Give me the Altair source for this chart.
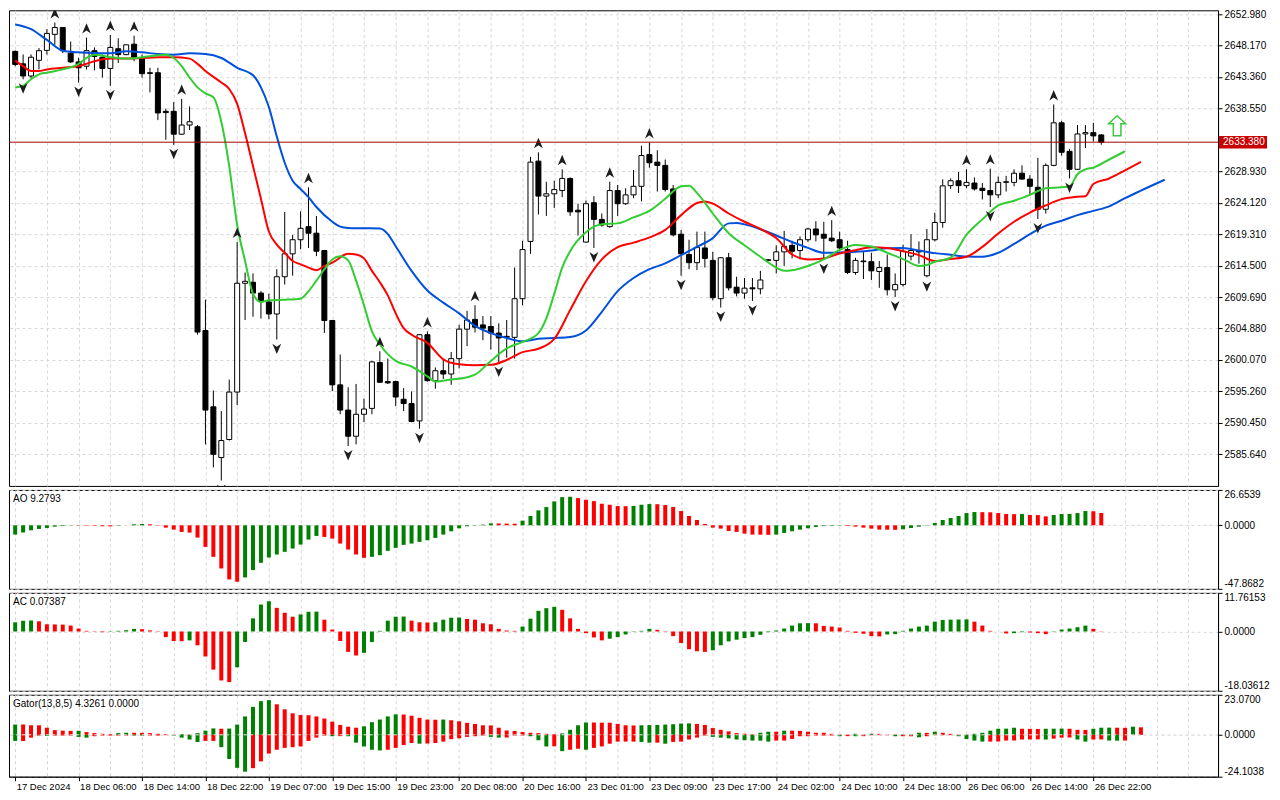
import altair as alt
import pandas as pd

# ---------------- data ----------------
opens = [2647.27, 2645.36, 2643.5, 2645.9, 2647.42, 2649.87, 2650.92, 2647.0, 2645.66, 2645.0,
         2647.37, 2646.37, 2644.66, 2647.67, 2646.77, 2648.37, 2646.27, 2644.0, 2644.0, 2638.1,
         2638.1, 2634.6, 2636.0, 2635.74, 2604.58, 2592.9, 2585.14, 2587.9, 2595.16, 2611.8,
         2611.95, 2610.3, 2608.94, 2607.1, 2612.8, 2616.3, 2618.46, 2620.46, 2619.46, 2616.8,
         2606.1, 2596.26, 2592.4, 2588.4, 2591.76, 2592.66, 2599.67, 2596.76, 2596.76, 2594.06,
         2593.41, 2590.75, 2603.93, 2596.9, 2598.42, 2597.92, 2600.27, 2604.78, 2606.28, 2605.43,
         2605.18, 2604.18, 2603.68, 2603.53, 2609.44, 2618.2, 2630.48, 2625.13, 2625.48, 2625.98,
         2627.83, 2622.97, 2618.1, 2624.12, 2621.57, 2620.46, 2625.98, 2623.97, 2625.32, 2626.63,
         2631.48, 2630.33, 2629.83, 2626.23, 2619.3, 2616.2, 2614.95, 2617.2, 2615.3, 2609.44,
         2615.7, 2611.2, 2610.3, 2611.1, 2610.95, 2615.3, 2615.3, 2616.6, 2617.6, 2616.8,
         2618.46, 2620.1, 2619.3, 2618.71, 2618.46, 2616.95, 2613.45, 2615.2, 2615.1, 2613.6,
         2614.2, 2610.8, 2611.6, 2615.95, 2616.8, 2612.95, 2618.46, 2621.1, 2626.73, 2627.48,
         2626.73, 2627.13, 2626.33, 2625.98, 2625.32, 2627.23, 2627.23, 2628.63, 2627.73, 2626.48,
         2623.12, 2629.83, 2636.34, 2631.98, 2629.23, 2634.64, 2634.84, 2634.49]
highs = [2647.4, 2646.8, 2646.8, 2647.77, 2650.67, 2651.68, 2651.0, 2648.77, 2646.3, 2649.37,
         2647.87, 2646.8, 2649.77, 2649.27, 2648.3, 2649.67, 2646.77, 2644.76, 2644.76, 2638.5,
         2639.5, 2640.0, 2638.85, 2636.0, 2609.29, 2595.41, 2592.25, 2597.07, 2618.1, 2613.45,
         2613.3, 2610.6, 2610.2, 2613.95, 2622.7, 2619.2, 2622.8, 2626.47, 2622.1, 2616.9,
         2606.2, 2600.9, 2595.9, 2596.4, 2594.16, 2599.92, 2601.4, 2600.28, 2596.9, 2595.76,
         2595.26, 2604.0, 2604.43, 2598.92, 2600.17, 2601.28, 2605.43, 2607.58, 2608.44, 2606.78,
         2606.78, 2605.68, 2606.18, 2614.2, 2618.3, 2631.13, 2631.83, 2627.33, 2627.48, 2629.23,
         2628.0, 2623.97, 2624.47, 2625.12, 2622.47, 2627.33, 2626.83, 2626.32, 2629.13, 2632.83,
         2633.34, 2632.14, 2630.73, 2626.83, 2619.96, 2618.46, 2619.7, 2619.7, 2616.6, 2615.8,
         2616.45, 2612.8, 2612.6, 2612.6, 2613.7, 2615.5, 2617.6, 2619.8, 2618.3, 2618.96,
         2620.3, 2621.3, 2621.2, 2621.45, 2619.7, 2618.3, 2615.7, 2616.7, 2616.45, 2615.2,
         2616.2, 2613.3, 2617.7, 2619.3, 2618.2, 2620.1, 2622.6, 2627.7, 2627.83, 2628.83,
         2629.23, 2627.98, 2627.13, 2629.33, 2628.13, 2628.23, 2629.23, 2629.83, 2628.33, 2630.98,
         2630.13, 2639.15, 2636.64, 2632.34, 2636.0, 2636.0, 2636.34, 2634.6]
lows = [2645.0, 2643.0, 2643.2, 2644.5, 2646.77, 2648.27, 2647.0, 2645.5, 2642.5, 2644.5,
        2644.36, 2643.26, 2642.0, 2645.5, 2646.7, 2645.76, 2643.26, 2641.0, 2636.75, 2633.74,
        2632.98, 2634.5, 2635.24, 2603.93, 2587.15, 2583.64, 2581.63, 2587.74, 2593.16, 2606.18,
        2606.68, 2606.4, 2606.3, 2603.18, 2611.6, 2612.95, 2617.0, 2617.2, 2615.95, 2604.2,
        2595.3, 2591.76, 2586.9, 2587.15, 2590.55, 2591.76, 2596.56, 2596.4, 2593.0, 2592.25,
        2590.55, 2589.55, 2596.76, 2595.66, 2597.17, 2596.26, 2598.77, 2602.18, 2604.28, 2603.08,
        2601.67, 2599.67, 2600.42, 2600.27, 2608.44, 2616.3, 2622.32, 2622.1, 2623.32, 2624.97,
        2622.1, 2619.1, 2618.0, 2617.2, 2620.46, 2620.3, 2622.1, 2623.8, 2624.82, 2624.32,
        2629.48, 2625.83, 2625.83, 2618.96, 2612.95, 2613.95, 2613.8, 2614.2, 2609.19, 2608.09,
        2610.7, 2609.8, 2609.44, 2609.1, 2610.1, 2615.2, 2613.3, 2614.45, 2615.6, 2615.45,
        2618.1, 2618.2, 2615.45, 2618.1, 2616.7, 2613.2, 2613.1, 2612.45, 2612.3, 2611.1,
        2609.94, 2609.7, 2611.3, 2615.3, 2614.8, 2612.7, 2618.2, 2620.3, 2626.23, 2625.6,
        2626.33, 2625.98, 2624.62, 2623.47, 2624.82, 2625.83, 2626.63, 2627.63, 2625.22, 2621.62,
        2622.47, 2629.7, 2631.33, 2627.83, 2629.13, 2632.49, 2633.49, 2632.99]
closes = [2645.27, 2643.5, 2646.37, 2647.37, 2650.02, 2650.92, 2647.37, 2645.66, 2644.76, 2647.37,
          2646.5, 2644.66, 2647.87, 2646.77, 2648.27, 2646.37, 2643.86, 2643.9, 2637.85, 2637.9,
          2634.6, 2636.0, 2636.5, 2604.33, 2592.4, 2585.64, 2587.74, 2595.16, 2611.8, 2612.1,
          2610.3, 2609.1, 2607.1, 2612.8, 2616.3, 2618.46, 2620.2, 2619.46, 2616.7, 2606.1,
          2596.26, 2592.4, 2588.4, 2591.76, 2592.56, 2599.77, 2596.66, 2596.56, 2594.4, 2593.4,
          2590.65, 2603.93, 2596.9, 2598.42, 2597.92, 2600.27, 2604.78, 2606.18, 2605.08, 2604.93,
          2604.18, 2603.43, 2603.53, 2609.44, 2616.95, 2630.33, 2625.13, 2625.48, 2626.13, 2627.83,
          2622.72, 2622.72, 2623.97, 2621.57, 2620.7, 2625.98, 2623.97, 2625.32, 2626.63, 2631.33,
          2630.23, 2629.83, 2626.13, 2619.2, 2616.3, 2614.95, 2617.3, 2615.6, 2609.59, 2615.7,
          2611.1, 2610.3, 2611.05, 2610.95, 2612.3, 2615.4, 2616.6, 2617.45, 2616.7, 2618.46,
          2620.1, 2619.2, 2618.7, 2618.3, 2617.2, 2613.45, 2615.3, 2615.1, 2613.7, 2614.2,
          2610.8, 2611.6, 2616.7, 2616.8, 2616.6, 2618.46, 2621.1, 2626.7, 2627.48, 2626.73,
          2627.23, 2626.23, 2625.98, 2625.32, 2627.23, 2627.33, 2628.63, 2627.73, 2626.63, 2623.12,
          2629.83, 2636.34, 2631.83, 2629.23, 2634.64, 2634.84, 2634.34, 2633.38]

time_labels = ["17 Dec 2024", "18 Dec 06:00", "18 Dec 14:00", "18 Dec 22:00", "19 Dec 07:00",
               "19 Dec 15:00", "19 Dec 23:00", "20 Dec 08:00", "20 Dec 16:00", "23 Dec 01:00",
               "23 Dec 09:00", "23 Dec 17:00", "24 Dec 02:00", "24 Dec 10:00", "24 Dec 18:00",
               "26 Dec 06:00", "26 Dec 14:00", "26 Dec 22:00"]

# Alligator (jaw / teeth / lips), read at the listed bar positions
jaw_idx = [0, 2, 4, 6, 8, 10, 12, 14, 16, 18, 20, 22, 24, 26, 28, 30, 31, 32, 33, 34, 35, 36, 37, 38, 40,
           41, 42, 44, 46, 47, 48, 50, 52, 54, 56, 58, 60, 62, 64, 66, 68, 70, 72, 74, 76, 78, 80, 82,
           84, 86, 88, 90, 91, 92, 94, 96, 98, 100, 102, 104, 106, 108, 110, 112, 114, 116, 118, 120,
           122, 124, 126, 128, 130, 132, 134, 136, 138, 140, 142, 145]
jaw_val = [2651.38, 2650.67, 2649.02, 2647.37, 2647.12, 2647.02, 2646.97, 2647.27, 2647.12, 2646.87,
           2646.77, 2646.97, 2646.87, 2646.26, 2644.76, 2643.61, 2641.76, 2638.75, 2634.24, 2630.23,
           2627.48, 2626.22, 2624.97, 2623.47, 2621.21, 2620.46, 2620.26, 2620.21, 2620.16, 2619.31,
           2617.46, 2613.70, 2610.69, 2608.84, 2607.19, 2605.28, 2604.18, 2603.43, 2602.93, 2603.33,
           2603.43, 2603.58, 2604.58, 2607.44, 2610.59, 2612.60, 2613.95, 2614.85, 2616.10, 2617.36,
           2618.71, 2620.96, 2621.01, 2620.81, 2620.06, 2619.11, 2618.11, 2617.21, 2616.46, 2616.51,
           2616.61, 2616.81, 2617.16, 2617.21, 2616.81, 2616.41, 2616.15, 2615.90, 2615.85, 2616.46,
           2617.81, 2619.31, 2620.61, 2621.37, 2622.22, 2622.87, 2623.57, 2624.82, 2625.97, 2627.63]
teeth_idx = [0, 1, 2, 3, 4, 6, 8, 10, 12, 14, 16, 18, 20, 22, 23, 24, 26, 27, 28, 29, 30, 31, 32, 33,
             34, 35, 36, 37, 38, 39, 40, 42, 43, 44, 45, 46, 47, 48, 49, 50, 52, 54, 56, 58, 60, 62,
             64, 66, 68, 70, 72, 74, 76, 78, 80, 82, 84, 86, 87, 88, 90, 92, 94, 96, 98, 100, 102,
             104, 106, 108, 110, 112, 114, 116, 118, 120, 122, 124, 126, 128, 130, 132, 134, 135,
             136, 138, 140, 142]
teeth_val = [2645.86, 2645.01, 2644.26, 2644.26, 2644.51, 2644.76, 2645.01, 2645.76, 2646.16, 2646.16,
             2646.26, 2646.37, 2646.37, 2646.16, 2645.36, 2644.26, 2642.51, 2641.51, 2639.25, 2634.74,
             2629.73, 2624.72, 2619.71, 2617.71, 2616.46, 2615.20, 2614.70, 2614.20, 2613.80, 2614.45,
             2614.95, 2616.31, 2616.21, 2615.60, 2613.70, 2611.95, 2609.94, 2607.19, 2604.93, 2603.93,
             2602.68, 2600.17, 2599.42, 2599.27, 2599.32, 2600.07, 2601.27, 2601.78, 2603.28, 2607.69,
             2612.10, 2615.45, 2617.31, 2618.01, 2618.81, 2619.96, 2622.22, 2624.07, 2624.32, 2623.97,
             2622.47, 2621.21, 2620.11, 2618.71, 2616.20, 2615.45, 2615.60, 2616.36, 2616.86, 2617.31,
             2617.21, 2616.71, 2616.10, 2615.20, 2615.50, 2615.85, 2617.36, 2619.41, 2621.21, 2622.62,
             2623.72, 2624.67, 2625.02, 2625.12, 2626.98, 2627.83, 2629.08, 2630.38]
lips_idx = [0, 1, 2, 3, 4, 6, 8, 9, 10, 12, 14, 16, 18, 19, 20, 21, 22, 23, 24, 25, 26, 27, 28, 29, 30,
            31, 32, 34, 36, 37, 38, 39, 40, 41, 42, 43, 44, 45, 46, 48, 50, 52, 53, 55, 57, 58, 60, 62,
            64, 66, 67, 68, 69, 70, 72, 74, 76, 78, 80, 82, 84, 85, 86, 88, 90, 92, 94, 96, 97, 98,
            100, 102, 104, 106, 108, 110, 112, 114, 115, 116, 118, 120, 122, 124, 126, 128, 130, 132,
            133, 134, 135, 136, 138, 140]
lips_val = [2641.76, 2642.01, 2643.01, 2643.76, 2644.01, 2644.51, 2645.36, 2646.26, 2646.77, 2646.37,
            2646.16, 2646.37, 2646.67, 2646.77, 2646.26, 2645.01, 2643.26, 2641.76, 2640.85, 2640.25,
            2636.50, 2629.73, 2620.71, 2615.20, 2610.19, 2608.94, 2609.19, 2609.29, 2609.44, 2610.59,
            2612.20, 2613.95, 2615.45, 2615.95, 2615.30, 2612.20, 2608.44, 2604.43, 2602.43, 2599.92,
            2599.07, 2597.57, 2596.77, 2597.07, 2597.42, 2597.82, 2599.92, 2601.83, 2602.83, 2604.18,
            2606.44, 2610.19, 2614.20, 2616.71, 2619.61, 2620.81, 2620.96, 2621.87, 2622.87, 2624.72,
            2626.63, 2626.73, 2625.62, 2622.47, 2619.46, 2617.61, 2615.85, 2614.20, 2613.70, 2613.80,
            2614.45, 2615.45, 2616.91, 2617.66, 2617.41, 2616.46, 2615.50, 2614.45, 2614.60, 2615.10,
            2615.70, 2619.21, 2621.57, 2623.72, 2624.42, 2625.32, 2626.33, 2626.48, 2626.63, 2628.48,
            2629.23, 2629.48, 2630.73, 2631.99]

# Fractals (bar numbers)
fractal_up = [5, 9, 12, 15, 21, 28, 37, 46, 52, 58, 66, 69, 75, 80, 103, 120, 123, 131]
fractal_down = [1, 8, 12, 20, 26, 33, 42, 51, 61, 73, 84, 89, 93, 102, 111, 115, 123, 129, 133]
signal_bar = [139]
signal_price = [2635.9]
last_price = [2633.38]
last_price_text = ["2633.380"]

price_ticks = [2652.98, 2648.17, 2643.36, 2638.55, 2628.93, 2624.12, 2619.31, 2614.50,
               2609.69, 2604.88, 2600.07, 2595.26, 2590.45, 2585.64]

ao_values = [-7.0, -5.5, -3.75, -2.75, -2.0, -1.0, -0.5, -0.2, -0.25, -0.3,
             -0.4, -0.7, -0.8, -0.3, 0.0, 0.75, 1.0, 0.75, -0.25, -1.75,
             -3.25, -5.0, -5.5, -9.25, -16.25, -23.75, -32.5, -40.75, -42.5, -39.25,
             -33.75, -28.25, -24.25, -22.0, -20.0, -17.5, -14.5, -10.75, -8.0, -8.75,
             -10.0, -13.75, -18.25, -22.0, -24.5, -23.75, -22.5, -19.25, -17.0, -14.75,
             -13.75, -12.5, -11.25, -9.5, -7.0, -4.5, -2.25, -0.75, -0.25, 0.5,
             1.5, 1.4, 1.3, 1.2, 3.5, 7.0, 11.25, 13.75, 18.0, 21.25,
             21.5, 20.5, 19.25, 18.25, 16.25, 15.5, 14.5, 14.4, 14.6, 15.5,
             16.0, 15.9, 15.25, 13.75, 10.75, 7.0, 4.0, 1.0, -1.75, -2.5,
             -4.25, -5.0, -6.25, -7.0, -7.1, -7.2, -7.0, -5.75, -4.5, -3.25,
             -2.25, -1.25, -0.5, -0.4, -0.25, -0.5, -1.0, -1.75, -2.5, -3.25,
             -3.3, -3.4, -3.0, -2.0, -1.0, -0.25, 1.75, 4.0, 5.5, 7.0,
             9.25, 10.0, 9.9, 9.8, 9.25, 8.5, 8.4, 8.5, 7.75, 7.7,
             6.75, 7.75, 8.5, 8.6, 9.25, 10.75, 10.6, 9.2793]
ac_values = [2.8, 3.3, 3.35, 3.1, 2.2, 2.15, 2.1, 1.8, 0.9, 0.2,
             0.1, -0.2, -0.1, 0.2, 0.4, 0.8, 0.7, 0.35, 0.1, -1.7,
             -2.9, -2.95, -2.7, -4.2, -7.6, -11.6, -14.9, -15.4, -10.9, -3.2,
             4.0, 8.2, 9.2, 7.2, 5.7, 4.5, 5.2, 6.0, 6.05, 3.6,
             0.6, -2.9, -6.2, -7.3, -6.5, -3.2, 0.2, 3.3, 4.5, 4.55,
             3.3, 2.8, 2.75, 2.8, 3.6, 4.2, 4.25, 3.8, 3.6, 2.5,
             2.2, 0.8, 0.3, 0.2, 1.5, 3.9, 6.3, 7.1, 7.5, 6.6,
             4.0, 0.8, -0.5, -1.8, -2.7, -2.2, -1.7, -0.9, -0.1, 0.2,
             0.8, 0.5, -0.1, -1.4, -3.5, -5.4, -6.0, -6.2, -5.7, -4.2,
             -3.0, -2.5, -2.0, -1.7, -1.0, -0.2, 0.3, 0.9, 1.8, 2.5,
             2.55, 2.5, 1.7, 1.5, 1.2, 0.2, -0.4, -0.7, -1.4, -1.5,
             -0.9, -0.8, 0.2, 0.9, 1.5, 1.8, 3.0, 3.5, 3.6, 3.65,
             3.7, 3.0, 1.8, 0.2, 0.0, -0.6, -0.5, -0.2, -0.3, -0.5,
             -0.8, 0.1, 0.6, 0.9, 1.3, 1.8, 0.8, 0.07387]
gator_up = [5.9, 5.9, 5.5, 5.5, 4.1, 2.7, 2.4, 2.3, 2.35, 1.6,
            1.0, 0.6, 0.4, 1.0, 1.2, 1.2, 1.15, 1.0, 0.6, 0.4,
            0.1, 0.4, 0.2, 1.0, 2.4, 3.7, 3.5, 3.6, 5.9, 10.6,
            16.1, 19.4, 20.0, 17.6, 14.7, 12.4, 11.4, 11.3, 10.6, 9.4,
            7.6, 5.7, 4.7, 4.1, 4.9, 7.3, 8.8, 10.6, 11.8, 11.7,
            11.0, 9.8, 8.8, 8.7, 8.8, 8.4, 7.8, 6.9, 6.3, 5.5,
            5.4, 4.1, 2.5, 2.2, 1.6, 1.2, 1.0, 0.6, 0.4, 0.8,
            2.9, 5.5, 7.1, 7.1, 7.0, 7.0, 6.3, 5.5, 5.4, 5.5,
            5.6, 5.7, 5.9, 6.1, 6.5, 6.6, 6.3, 5.7, 3.9, 2.9,
            2.0, 1.0, 0.6, 0.3, 1.2, 1.8, 1.8, 2.4, 2.4, 2.3,
            1.8, 1.2, 1.15, 0.6, 0.2, 0.15, 0.6, 0.2, 0.6, 0.55,
            0.2, 0.2, 0.25, 0.3, 1.2, 1.15, 1.8, 1.2, 0.6, 0.2,
            0.15, 0.6, 1.2, 2.4, 3.5, 3.55, 4.1, 3.5, 3.45, 3.4,
            3.5, 3.55, 3.6, 3.5, 2.9, 2.85, 3.5, 4.1, 4.15, 4.1, 4.05, 4.7, 4.3261]
gator_down = [-3.5, -3.5, -1.6, -0.4, -0.6, -0.4, -0.4, -0.4, -1.2, -1.6,
              -0.8, -0.4, -0.4, -0.4, -0.35, -0.4, -0.45, -0.4, -0.4, -0.2,
              -0.4, -1.6, -2.7, -4.1, -3.5, -3.5, -7.1, -13.9, -19.0, -21.2,
              -19.2, -15.3, -10.8, -8.6, -7.5, -7.1, -6.7, -3.5, -1.6, -0.4,
              -0.8, -0.75, -0.8, -4.5, -6.7, -8.6, -9.0, -8.6, -7.5, -5.9,
              -4.7, -5.1, -5.0, -4.7, -3.9, -2.5, -2.0, -1.2, -0.8, -0.4,
              -1.2, -1.6, -1.55, -0.4, -0.35, -0.8, -3.1, -6.7, -6.6, -9.4,
              -8.6, -8.0, -8.6, -7.5, -6.7, -5.1, -3.9, -3.9, -3.9, -4.1,
              -4.5, -4.5, -5.1, -4.1, -3.9, -2.7, -1.6, -0.4, -1.2, -1.6,
              -2.0, -2.7, -3.1, -3.3, -3.35, -3.9, -3.3, -3.3, -2.35, -0.8,
              -0.8, -0.4, -0.4, -0.4, -0.8, -0.75, -0.8, -0.75, -0.2, -0.2,
              -0.2, -0.8, -0.8, -0.8, -1.4, -0.8, -0.2, -0.2, -0.2, -0.8,
              -2.4, -3.3, -3.9, -3.9, -3.85, -3.3, -3.25, -2.7, -2.65, -2.6,
              -2.7, -2.2, -1.6, -1.55, -2.7, -3.9, -2.7, -2.65, -3.3, -3.35, -3.3]

ao_ticks, ao_tick_labels = [26.6539, 0.0, -47.8682], ["26.6539", "0.0000", "-47.8682"]
ac_ticks, ac_tick_labels = [11.76153, 0.0, -18.03612], ["11.76153", "0.0000", "-18.03612"]
gt_ticks, gt_tick_labels = [23.07, 0.0, -24.1038], ["23.0700", "0.0000", "-24.1038"]

# ---------------- styling ----------------
W = 1210
H_MAIN, H_AO, H_AC, H_GT = 476, 99, 98, 82
GRID = "#d6d6d6"
FONT = "Liberation Sans"
YFS, XFS, TFS = 10, 9.5, 10
UPC, DNC = "#008000", "#ff0000"
JAW, TEETH, LIPS = "#0050dc", "#ff0000", "#32cd32"
UP_ARROW = "M0,-1L0.8,0.9L0,0.35L-0.8,0.9Z"
DOWN_ARROW = "M0,1L0.8,-0.9L0,-0.35L-0.8,-0.9Z"
SIGNAL = "M0,-1L0.85,-0.2L0.38,-0.2L0.38,1L-0.38,1L-0.38,-0.2L-0.85,-0.2Z"
RECT = "M-1,-0.26L1,-0.26L1,0.26L-1,0.26Z"

xs = alt.Scale(domain=[-0.15, W / 8 - 0.15], nice=False, zero=False)
grid_idx = list(range(0, 152, 4))


def plain_x():
    return alt.X("i:Q", scale=xs, axis=alt.Axis(values=grid_idx, labels=False, ticks=False, domain=False,
                                                grid=True, gridDash=[3, 3], gridColor=GRID, title=None))


ys = alt.Scale(domain=[2580.8, 2653.55], nice=False, zero=False)


def main_y(field):
    return alt.Y(field, scale=ys, axis=alt.Axis(orient="right", values=price_ticks, format=".3f", grid=True,
                                                gridDash=[3, 3], gridColor=GRID, tickSize=4, labelPadding=2,
                                                labelFontSize=YFS, title=None))


def ind_axis(ticks, labels):
    expr = "''"
    for t, lab in zip(ticks, labels):
        expr = f"abs(datum.value - ({t})) < 1e-6 ? '{lab}' : ({expr})"
    return alt.Axis(orient="right", values=ticks, labelExpr=expr, grid=True, gridDash=[3, 3], gridColor=GRID,
                    tickSize=4, labelPadding=2, labelFontSize=YFS, labelFlush=True, title=None)


def change_colors(vals, use_abs=False):
    out, prev = [], None
    for v in vals:
        cur = abs(v) if use_abs else v
        out.append(UPC if prev is None or cur > prev else DNC)
        prev = cur
    return out


# ---------------- main panel ----------------
n = len(opens)
candles = pd.DataFrame({"i": list(range(n)), "o": opens, "h": highs, "l": lows, "c": closes})
candles["fc"] = ["white" if c >= o else "black" for o, c in zip(opens, closes)]

wick = alt.Chart(candles).mark_rule(color="black", strokeWidth=1, clip=True).encode(
    x=plain_x(), y=main_y("l:Q"), y2="h:Q")
body = alt.Chart(candles).mark_bar(size=5, stroke="black", strokeWidth=1, clip=True).encode(
    x=plain_x(), y=main_y("o:Q"), y2="c:Q", fill=alt.Fill("fc:N", scale=None))


def line_layer(idx, vals, color):
    df = pd.DataFrame({"i": idx, "v": vals})
    return alt.Chart(df).mark_line(color=color, strokeWidth=2, interpolate="monotone", clip=True).encode(
        x=plain_x(), y=main_y("v:Q"))


jaw = line_layer(jaw_idx, jaw_val, JAW)
teeth = line_layer(teeth_idx, teeth_val, TEETH)
lips = line_layer(lips_idx, lips_val, LIPS)

fu = pd.DataFrame({"i": fractal_up, "p": [highs[k] for k in fractal_up]})
fd = pd.DataFrame({"i": fractal_down, "p": [lows[k] for k in fractal_down]})
frac_up = alt.Chart(fu).mark_point(shape=UP_ARROW, size=121, filled=True, color="#1e1e1e", opacity=1,
                                   yOffset=-9, clip=True).encode(x=plain_x(), y=main_y("p:Q"))
frac_dn = alt.Chart(fd).mark_point(shape=DOWN_ARROW, size=121, filled=True, color="#1e1e1e", opacity=1,
                                   yOffset=9, clip=True).encode(x=plain_x(), y=main_y("p:Q"))

sig_df = pd.DataFrame({"i": signal_bar, "p": signal_price})
signal = alt.Chart(sig_df).mark_point(shape=SIGNAL, size=400, filled=True, fill="white", stroke="#3cc83c",
                                      strokeWidth=1.5, opacity=1).encode(x=plain_x(), y=main_y("p:Q"))

lp = pd.DataFrame({"p": last_price, "t": last_price_text})
price_line = alt.Chart(lp).mark_rule(color="#a00000", strokeWidth=1).encode(y=main_y("p:Q"))
price_box = alt.Chart(lp).mark_point(shape=RECT, size=2304, filled=True, color="#c80000", opacity=1,
                                     strokeWidth=0).encode(x=alt.value(W + 25), y=main_y("p:Q"))
price_txt = alt.Chart(lp).mark_text(align="left", baseline="middle", color="white", font=FONT,
                                    fontSize=YFS).encode(x=alt.value(W + 5), y=main_y("p:Q"), text="t:N")

main = alt.layer(wick, body, jaw, teeth, lips, frac_up, frac_dn, signal, price_line, price_box,
                 price_txt).properties(width=W, height=H_MAIN)


# ---------------- indicator panels ----------------
def title_layer(txt):
    return alt.Chart(pd.DataFrame({"t": [txt]})).mark_text(
        align="left", baseline="middle", font=FONT, fontSize=TFS, color="black").encode(
        x=alt.value(4), y=alt.value(9), text="t:N")


def hist_panel(vals, ticks, labels, title, h):
    df = pd.DataFrame({"i": list(range(len(vals))), "v": vals, "z": 0.0})
    df["col"] = change_colors(vals)
    sc = alt.Scale(domain=[ticks[-1], ticks[0]], nice=False, zero=False)
    bars = alt.Chart(df).mark_bar(size=4).encode(
        x=plain_x(), y=alt.Y("v:Q", scale=sc, axis=ind_axis(ticks, labels)), y2="z:Q",
        color=alt.Color("col:N", scale=None))
    return alt.layer(bars, title_layer(title)).properties(width=W, height=h)


ao = hist_panel(ao_values, ao_ticks, ao_tick_labels, "AO 9.2793", H_AO)
ac = hist_panel(ac_values, ac_ticks, ac_tick_labels, "AC 0.07387", H_AC)

arr = "[" + ",".join(f"'{s}'" for s in time_labels) + "]"
last_lab = 8 * (len(time_labels) - 1)
gx = alt.X("i:Q", scale=xs, axis=alt.Axis(
    values=grid_idx,
    labelExpr=f"(datum.value % 8 === 0 && datum.value <= {last_lab}) ? {arr}[datum.value / 8] : ''",
    labelAlign="left", labelOffset=1, labelOverlap=False, labelBound=False, labelFlush=False,
    labelFontSize=XFS, labelPadding=1, tickSize=4,
    tickOpacity={"condition": {"test": f"datum.value % 8 === 0 && datum.value <= {last_lab}", "value": 1},
                 "value": 0},
    domain=True, grid=True, gridDash=[3, 3], gridColor=GRID, title=None))

gsc = alt.Scale(domain=[gt_ticks[-1], gt_ticks[0]], nice=False, zero=False)
gu = pd.DataFrame({"i": list(range(len(gator_up))), "v": gator_up, "z": 0.0})
gu["col"] = change_colors(gator_up, use_abs=True)
gd = pd.DataFrame({"i": list(range(len(gator_down))), "v": gator_down, "z": 0.0})
gd["col"] = change_colors(gator_down, use_abs=True)
g_up = alt.Chart(gu).mark_bar(size=4).encode(
    x=gx, y=alt.Y("v:Q", scale=gsc, axis=ind_axis(gt_ticks, gt_tick_labels)), y2="z:Q",
    color=alt.Color("col:N", scale=None))
g_dn = alt.Chart(gd).mark_bar(size=4).encode(
    x=gx, y=alt.Y("v:Q", scale=gsc, axis=ind_axis(gt_ticks, gt_tick_labels)), y2="z:Q",
    color=alt.Color("col:N", scale=None))
g_zero = alt.Chart(pd.DataFrame({"v": [0.0]})).mark_rule(color="#e6e6e6", strokeDash=[3, 3],
                                                        strokeWidth=1).encode(
    y=alt.Y("v:Q", scale=gsc, axis=ind_axis(gt_ticks, gt_tick_labels)))
gator = alt.layer(g_up, g_dn, g_zero, title_layer("Gator(13,8,5) 4.3261 0.0000")).properties(
    width=W, height=H_GT)

chart = alt.vconcat(main, ao, ac, gator, spacing=2).properties(
    padding={"left": 0, "top": 0, "right": 2, "bottom": 0}
).configure_view(stroke="black", strokeWidth=1).configure_axis(
    labelFont=FONT, labelColor="black", tickColor="black", domainColor="black"
).configure_text(font=FONT)

chart.save("out.html", embed_options={"renderer": "svg", "actions": False})
